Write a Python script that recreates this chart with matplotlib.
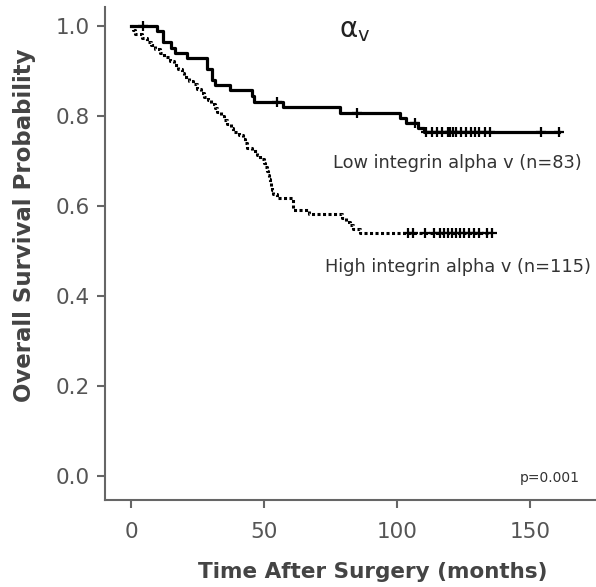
import matplotlib
matplotlib.use('Agg')
import matplotlib.pyplot as plt
import numpy as np

plt.rcParams['font.family'] = 'DejaVu Sans'
plt.rcParams['mathtext.default'] = 'regular'

# low integrin alpha v (n=83), step times (months) and survival
low_t = [0, 9.8, 12.2, 15.0, 16.5, 21.0, 28.5, 30.3, 31.4, 37.2, 45.5, 46.3,
         57.1, 78.6, 101.0, 103.5, 108.0, 110.0]
low_s = [1.0, 0.988, 0.964, 0.952, 0.940, 0.928, 0.904, 0.880, 0.869, 0.857,
         0.845, 0.832, 0.819, 0.807, 0.796, 0.784, 0.774, 0.764]
low_end = 161
low_cens = [4.5, 55, 85, 106.8, 111, 113, 115, 117, 119, 120, 121, 122, 124,
            126, 128, 129.5, 131, 133, 135, 154, 161]

# high integrin alpha v (n=115)
high_t = [0, 0.8, 1.5, 4, 6, 7.5, 9, 11, 12.5, 14.5, 16, 17.5, 19, 20, 22, 23.5,
          25, 26.5, 27.5, 29, 30, 31.5, 32.5, 34, 35, 36, 37.5, 38.5, 40.5, 42,
          43, 43.5, 45.5, 47.5, 48.5, 50, 50.5, 51, 51.5, 52, 52.3, 52.6, 53,
          53.4, 55, 61, 67, 79.5, 81, 82.5, 83.5, 86]
high_s = [1.0, 0.991, 0.983, 0.974, 0.965, 0.957, 0.948, 0.939, 0.930, 0.922,
          0.913, 0.904, 0.896, 0.887, 0.878, 0.870, 0.861, 0.852, 0.843, 0.835,
          0.826, 0.817, 0.809, 0.800, 0.791, 0.783, 0.774, 0.765, 0.757, 0.748,
          0.739, 0.730, 0.722, 0.713, 0.704, 0.696, 0.687, 0.678, 0.670, 0.661,
          0.652, 0.643, 0.635, 0.626, 0.617, 0.591, 0.583, 0.574, 0.565, 0.557,
          0.548, 0.540]
high_end = 135.7
high_cens = [104, 106, 110.5, 114, 116, 117.5, 119, 120.7, 122, 123.5, 125,
             127, 129, 131, 134, 135.7]

xticks = [0, 50, 100, 150]
yticks = [0.0, 0.2, 0.4, 0.6, 0.8, 1.0]

fig = plt.figure(figsize=(5.96, 5.87), dpi=100)
ax = fig.add_axes([0.176, 0.148, 0.824, 0.84])

gray = '#666666'


def level(ts, ss, c):
    return ss[np.searchsorted(ts, c, side='right') - 1]


# solid curve
ax.step(low_t + [low_end], low_s + [low_s[-1]], where='post', color='black', lw=2.3)
ax.plot(low_cens, [level(low_t, low_s, c) for c in low_cens], '+', color='black',
        ms=7, mew=1.6)

# dotted curve
ax.step(high_t + [high_end], high_s + [high_s[-1]], where='post', color='black',
        lw=2.2, linestyle=(0, (1, 0.8)), dash_capstyle='butt')
ax.plot(high_cens, [level(high_t, high_s, c) for c in high_cens], '+',
        color='black', ms=7, mew=1.6)

ax.set_xlim(-9.8, 174.8)
ax.set_ylim(-0.053, 1.042)
ax.set_xticks(xticks)
ax.set_xticklabels([str(x) for x in xticks])
ax.set_yticks(yticks)
ax.set_yticklabels(['%.1f' % y for y in yticks])

for s in ['top', 'right']:
    ax.spines[s].set_visible(False)
for s in ['left', 'bottom']:
    ax.spines[s].set_color(gray)
    ax.spines[s].set_linewidth(1.5)
ax.tick_params(axis='both', colors=gray, width=1.5, length=6, labelsize=15.5,
               labelcolor='#555555')
ax.tick_params(axis='x', pad=10)
ax.tick_params(axis='y', pad=5)

ax.text(84, 0.99, r'$\alpha_v$', fontsize=20, ha='center', va='center', color='#222222')
ax.text(169.5, 0.696, 'Low integrin alpha v (n=83)', fontsize=12.8, ha='right',
        va='center', color='#333333')
ax.text(173, 0.464, 'High integrin alpha v (n=115)', fontsize=12.8, ha='right',
        va='center', color='#333333')
ax.text(168.8, -0.004, 'p=0.001', fontsize=10, ha='right', va='center',
        color='#333333')

ax.set_ylabel('Overall Survival Probability', fontsize=16.5, fontweight='bold',
              color='#444444')
ax.set_xlabel('Time After Surgery (months)', fontsize=15.5, fontweight='bold',
              color='#444444')
ax.yaxis.set_label_coords(-0.14, 0.558)
ax.xaxis.set_label_coords(0.546, -0.125)

fig.savefig('out.png', dpi=100)
